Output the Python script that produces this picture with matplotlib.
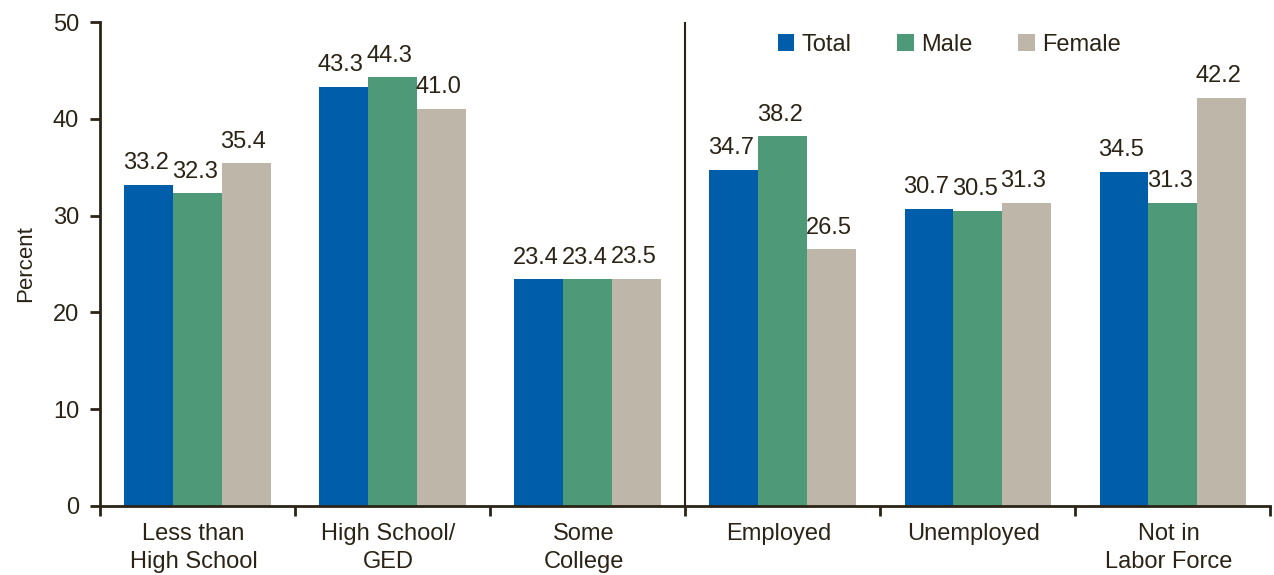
import matplotlib.pyplot as plt
import numpy as np

plt.rcParams['font.family'] = ['Liberation Sans', 'DejaVu Sans']

# categories and values
groups = ["Less than\nHigh School", "High School/\nGED", "Some\nCollege",
          "Employed", "Unemployed", "Not in\nLabor Force"]
total = [33.2, 43.3, 23.4, 34.7, 30.7, 34.5]
male = [32.3, 44.3, 23.4, 38.2, 30.5, 31.3]
female = [35.4, 41.0, 23.5, 26.5, 31.3, 42.2]

series = [("Total", total, "#005DAA"),
          ("Male", male, "#4E9A78"),
          ("Female", female, "#BEB6A8")]

ink = "#2B2416"

fig = plt.figure(figsize=(12.74, 5.75), dpi=100)
ax = fig.add_axes([0.0785, 0.12, 0.9185, 0.8417])

x = np.arange(len(groups)) + 0.5
w = 0.25
for i, (name, vals, col) in enumerate(series):
    pos = x + (i - 1) * w
    ax.bar(pos, vals, width=w, color=col, label=name)
    for p, v in zip(pos, vals):
        ax.text(p - 0.015, v + 1.1, f"{v:.1f}", ha="center", va="bottom",
                fontsize=17, color=ink)

ax.set_xlim(0, len(groups))
ax.set_ylim(0, 50)
ax.set_yticks(range(0, 51, 10))
ax.set_xticks(range(0, len(groups) + 1))
ax.set_xticklabels([])
ax.set_xticks(x - 0.02, minor=True)
ax.set_xticklabels(groups, minor=True, fontsize=17, color=ink,
                   linespacing=1.35)
ax.tick_params(axis="x", which="minor", length=0, pad=12)
ax.tick_params(axis="x", which="major", length=7, width=2, color=ink)
ax.tick_params(axis="y", length=7, width=2, color=ink, labelsize=17,
               labelcolor=ink, pad=8)

# divider between education and employment
ax.axvline(3, color=ink, lw=1.5)

for s in ["top", "right"]:
    ax.spines[s].set_visible(False)
for s in ["left", "bottom"]:
    ax.spines[s].set_color(ink)
    ax.spines[s].set_linewidth(2)

ax.set_ylabel("Percent", fontsize=16, color=ink, labelpad=12)

ax.legend(loc="center", bbox_to_anchor=(0.7256, 0.9525), ncol=3,
          frameon=False, fontsize=17, handlelength=0.7, handleheight=0.7,
          handletextpad=0.3, columnspacing=1.95, labelcolor=ink,
          borderpad=0)

fig.savefig("out.png", dpi=100)
